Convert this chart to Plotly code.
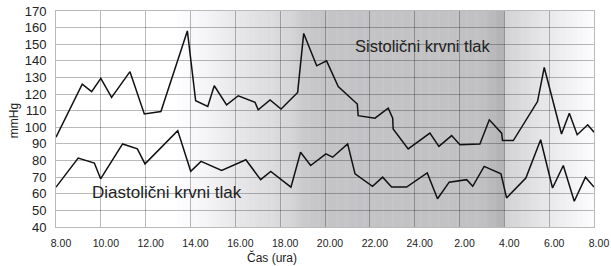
import plotly.graph_objects as go
import numpy as np

# Time in hours (8 = 8.00 on day 1, 32 = 8.00 next day)
sys_time = [8.0, 9.17, 9.59, 10.0, 10.48, 11.3, 11.94, 12.68, 13.86, 14.23, 14.77, 15.06,
            15.61, 16.13, 16.88, 17.02, 17.55, 18.04, 18.78, 19.05, 19.63, 20.07, 20.59,
            21.44, 21.48, 22.23, 22.82, 23.02, 23.04, 23.71, 24.68, 25.08, 25.65, 26.02,
            26.91, 27.33, 27.88, 27.92, 28.40, 29.48, 29.78, 30.55, 30.9, 31.25, 31.72, 32.0]
sys_vals = [94, 126, 121.5, 129.5, 118, 133.5, 108, 109.5, 158, 116, 112.5, 125,
            113.5, 119, 115, 110.5, 116.5, 111, 121, 156.5, 137, 140, 124.5,
            114, 107, 105.5, 111.5, 105.5, 99, 87, 96.5, 88.5, 95, 89.5,
            90, 104.5, 96.5, 92, 92, 115.5, 136, 96, 108.5, 95.5, 101.5, 97]

dia_time = [8.0, 8.99, 9.71, 9.99, 10.97, 11.63, 11.97, 13.43, 14.01, 14.47, 15.39, 16.47,
            17.13, 17.58, 18.48, 18.91, 19.36, 20.04, 20.34, 21.01, 21.34, 22.12, 22.57,
            22.97, 23.64, 24.56, 25.02, 25.54, 26.32, 26.59, 27.1, 27.85, 28.1, 28.96,
            29.62, 30.15, 30.63, 31.12, 31.62, 32.0]
dia_vals = [64, 81.5, 78.5, 69, 90, 87, 78, 98, 73.5, 79.5, 74, 80.5,
            68.5, 73.5, 64, 85, 77, 84, 82, 90, 72, 64.5, 70,
            64, 64, 72.5, 57, 67, 68.5, 64.5, 76.5, 72, 57.5, 69.5,
            92.5, 63.5, 77, 55.5, 70, 64]

tick_vals = list(range(8, 33, 2))
tick_text = ["8.00", "10.00", "12.00", "14.00", "16.00", "18.00", "20.00", "22.00",
             "24.00", "2.00", "4.00", "6.00", "8.00"]

fig = go.Figure()
fig.add_trace(go.Scatter(x=sys_time, y=sys_vals, mode="lines",
                         line=dict(color="#111111", width=1.5), showlegend=False))
fig.add_trace(go.Scatter(x=dia_time, y=dia_vals, mode="lines",
                         line=dict(color="#111111", width=1.5), showlegend=False))

# Background shading (night period) as gradient stripes
stops_t = [8, 13.2, 14.5, 16, 18, 18.7, 18.8, 20, 27, 27.95, 28.0, 30, 32]
stops_l = [255, 255, 246, 232, 217, 211, 204, 196, 193, 177, 210, 233, 252]
edges = np.arange(8, 32.0001, 0.1)
shapes = []
for a, b in zip(edges[:-1], edges[1:]):
    m = (a + b) / 2
    lv = int(round(np.interp(m, stops_t, stops_l)))
    col = f"rgb({lv},{lv},{min(255, lv + 3)})"
    shapes.append(dict(type="rect", xref="x", yref="paper", x0=a, x1=b + 0.02, y0=0, y1=1,
                       fillcolor=col, line=dict(width=0), layer="below"))

grid = "rgba(0,0,0,0.27)"
fig.update_layout(
    width=611, height=266,
    margin=dict(l=56, r=17, t=11, b=39),
    paper_bgcolor="white", plot_bgcolor="white",
    font=dict(family="Liberation Sans, Arial, sans-serif", color="#222222"),
    shapes=shapes,
    xaxis=dict(range=[8, 32], tickmode="array", tickvals=tick_vals, ticktext=tick_text,
               showgrid=True, gridcolor=grid, gridwidth=1, zeroline=False,
               showline=True, linecolor=grid, mirror=True, automargin=False,
               tickfont=dict(size=10.5), ticklabelshift=5, ticklabelstandoff=6),
    yaxis=dict(range=[40, 170], tickmode="array", tickvals=list(range(40, 171, 10)),
               showgrid=True, gridcolor=grid, gridwidth=1, zeroline=False,
               showline=True, linecolor=grid, mirror=True, automargin=False,
               tickfont=dict(size=13), ticklabelstandoff=6),
    annotations=[
        dict(text="Sistolični krvni tlak", x=0.682, y=0.838, xref="paper", yref="paper",
             xanchor="center", yanchor="middle",
             showarrow=False, font=dict(size=16.5, color="#222222")),
        dict(text="Diastolični krvni tlak", x=0.206, y=0.162, xref="paper", yref="paper",
             xanchor="center", yanchor="middle",
             showarrow=False, font=dict(size=17, color="#222222")),
        dict(text="Čas (ura)", x=0.4015, y=-0.1435, xref="paper", yref="paper",
             xanchor="center", yanchor="middle",
             showarrow=False, font=dict(size=12, color="#222222")),
        dict(text="mmHg", x=-0.078, y=0.49, xref="paper", yref="paper", textangle=-90,
             xanchor="center", yanchor="middle",
             showarrow=False, font=dict(size=12, color="#222222")),
    ],
)

fig.write_html("out.html", config={"displayModeBar": False},
               post_script="document.body.style.margin='0';document.body.style.padding='0';")
